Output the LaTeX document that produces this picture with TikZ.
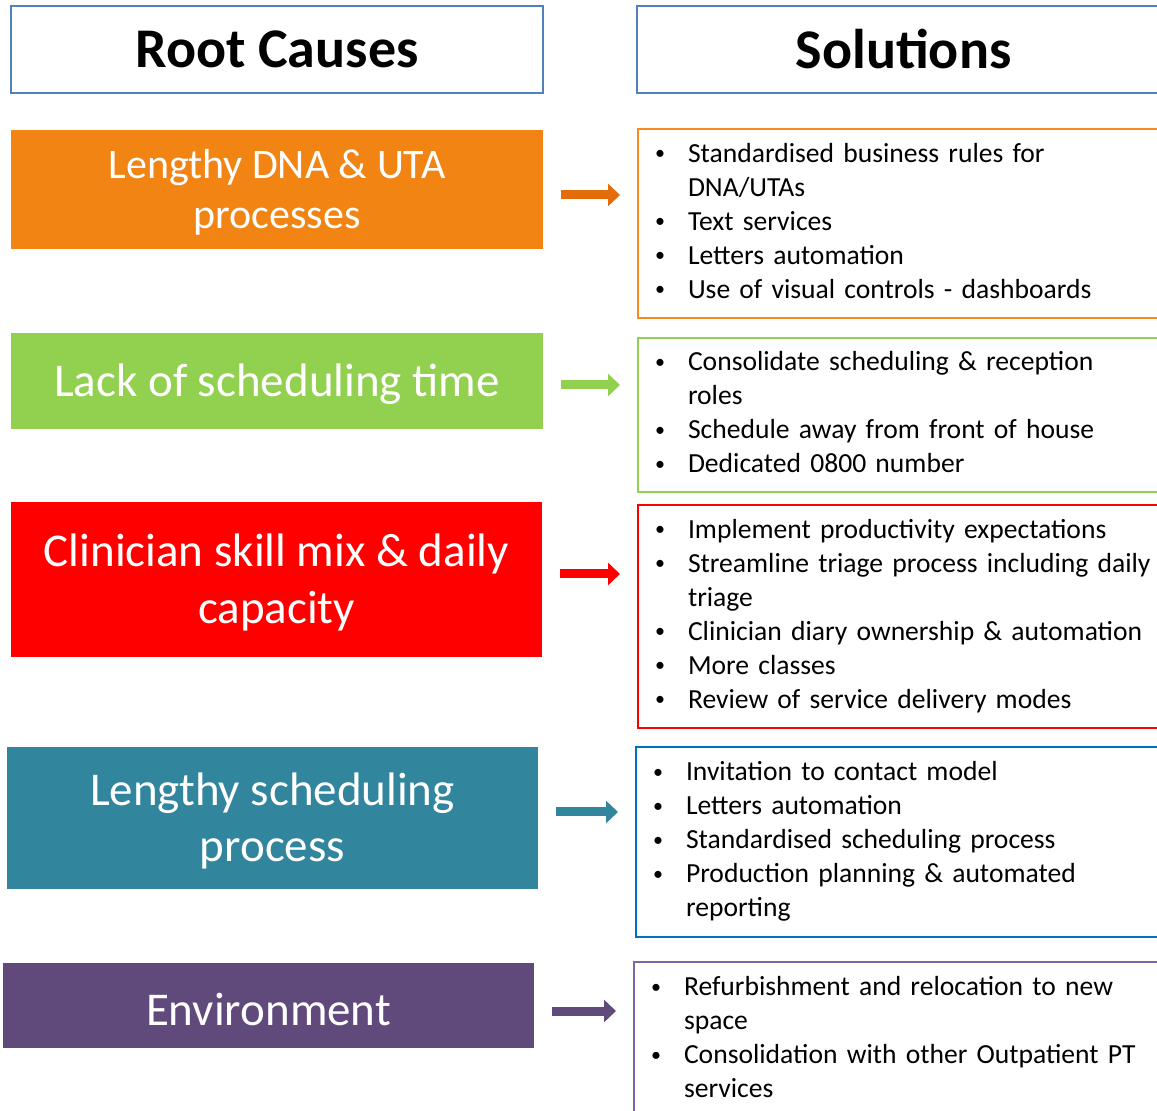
\documentclass[tikz,border=0pt]{standalone}
\usepackage{fontspec}
\setmainfont{Carlito}
\usepackage{xcolor}
\usepackage{tikz}
\usetikzlibrary{arrows.meta}
\definecolor{hdrblue}{HTML}{4F81BD}
\definecolor{cOrange}{HTML}{F28413}
\definecolor{aOrange}{HTML}{E46C0A}
\definecolor{bOrange}{HTML}{F58A1F}
\definecolor{cGreen}{HTML}{92D050}
\definecolor{cRed}{HTML}{FF0000}
\definecolor{cTeal}{HTML}{31859C}
\definecolor{bBlue}{HTML}{0070C0}
\definecolor{cPurple}{HTML}{604A7B}
\definecolor{bPurple}{HTML}{8064A2}
\newcommand{\solbul}{\raisebox{1.2pt}{\fontsize{10}{10}\selectfont\textbullet}}
\tikzset{
    headbox/.style = {draw=hdrblue, line width=1pt, fill=white, minimum width=266pt, minimum height=43.5pt, inner sep=0pt, font=\fontsize{28}{34}\selectfont\bfseries},
    causebox/.style = {align=center, inner sep=0pt, text=white, fill=#1, minimum width=266pt},
    solbox/.style = {draw=#1, line width=1pt, fill=white, anchor=west, inner xsep=8.5pt, inner ysep=0pt, text width=249pt, font=\fontsize{13.8}{17}\selectfont},
    arr/.style = {draw=#1, line width=4.5pt, -{Triangle[length=6pt,width=11pt]}, shorten <=9pt, shorten >=8.5pt}
}

\begin{document}
\begin{tikzpicture}[x=0.5pt, y=-0.5pt]
    \path[use as bounding box] (0,0) rectangle (1157,1111);
    \clip (0,0) rectangle (1157,1111);
    % headers
    \node[headbox] (hcause) at (277,49.5) {Root Causes};
    \node[headbox, minimum width=267pt] (hsol) at (903.5,49.5) {Solutions};
    % root causes
    \node[causebox=cOrange, minimum height=59.5pt, font=\fontsize{21}{25}\selectfont] (c1) at (277,189.5) {\rule{0pt}{17pt}Lengthy DNA \& UTA\\processes};
    \node[causebox=cGreen, minimum height=48pt, font=\fontsize{23.5}{28.5}\selectfont] (c2) at (277,381) {\rule{0pt}{20pt}Lack of scheduling time};
    \node[causebox=cRed, minimum width=265.5pt, minimum height=77.5pt, font=\fontsize{23.5}{28.5}\selectfont] (c3) at (276.5,579.5) {\rule{0pt}{19pt}Clinician skill mix \& daily\\capacity};
    \node[causebox=cTeal, minimum width=265.5pt, minimum height=71pt, font=\fontsize{23.5}{28}\selectfont] (c4) at (272.5,818) {\rule{0pt}{19.5pt}Lengthy scheduling\\process};
    \node[causebox=cPurple, minimum width=265.5pt, minimum height=42.5pt, font=\fontsize{23.5}{28}\selectfont] (c5) at (268.5,1005.5) {\rule{0pt}{20pt}Environment};
    % solutions
    \node[solbox=bOrange, minimum height=94.5pt] (s1) at (637,223.5) {\begin{tabular}{@{}p{16.5pt}@{}l@{}}
        \solbul & Standardised business rules for\\
        & DNA/UTAs\\
        \solbul & Text services\\
        \solbul & Letters automation\\
        \solbul & Use of visual controls - dashboards
    \end{tabular}};
    \node[solbox=cGreen, minimum height=77pt] (s2) at (637,415) {\begin{tabular}{@{}p{16.5pt}@{}l@{}}
        \solbul & Consolidate scheduling \& reception\\
        & roles\\
        \solbul & Schedule away from front of house\\
        \solbul & Dedicated 0800 number
    \end{tabular}};
    \node[solbox=cRed, minimum height=111.5pt] (s3) at (637,616.5) {\begin{tabular}{@{}p{16.5pt}@{}l@{}}
        \solbul & Implement productivity expectations\\
        \solbul & Streamline triage process including daily\\
        & triage\\
        \solbul & Clinician diary ownership \& automation\\
        \solbul & More classes\\
        \solbul & Review of service delivery modes
    \end{tabular}};
    \node[solbox=bBlue, minimum height=95pt] (s4) at (635,842) {\begin{tabular}{@{}p{16.5pt}@{}l@{}}
        \solbul & Invitation to contact model\\
        \solbul & Letters automation\\
        \solbul & Standardised scheduling process\\
        \solbul & Production planning \& automated\\
        & reporting
    \end{tabular}};
    \node[solbox=bPurple, minimum height=78pt] (s5) at (633,1040) {\begin{tabular}{@{}p{16.5pt}@{}l@{}}
        \solbul & Refurbishment and relocation to new\\
        & space\\
        \solbul & Consolidation with other Outpatient PT\\
        & services
    \end{tabular}};
    % arrows
    \path (c1.east) ++(0,5.5) coordinate (a1);
    \path (c2.east) ++(0,4) coordinate (a2);
    \path (c3.east) ++(0,-5.5) coordinate (a3);
    \path (c4.east) ++(0,-6) coordinate (a4);
    \path (c5.east) ++(0,5.5) coordinate (a5);
    \draw[arr=aOrange] (a1) -- (a1 -| s1.west);
    \draw[arr=cGreen] (a2) -- (a2 -| s2.west);
    \draw[arr=cRed] (a3) -- (a3 -| s3.west);
    \draw[arr=cTeal] (a4) -- (a4 -| s4.west);
    \draw[arr=cPurple] (a5) -- (a5 -| s5.west);
\end{tikzpicture}
\end{document}
